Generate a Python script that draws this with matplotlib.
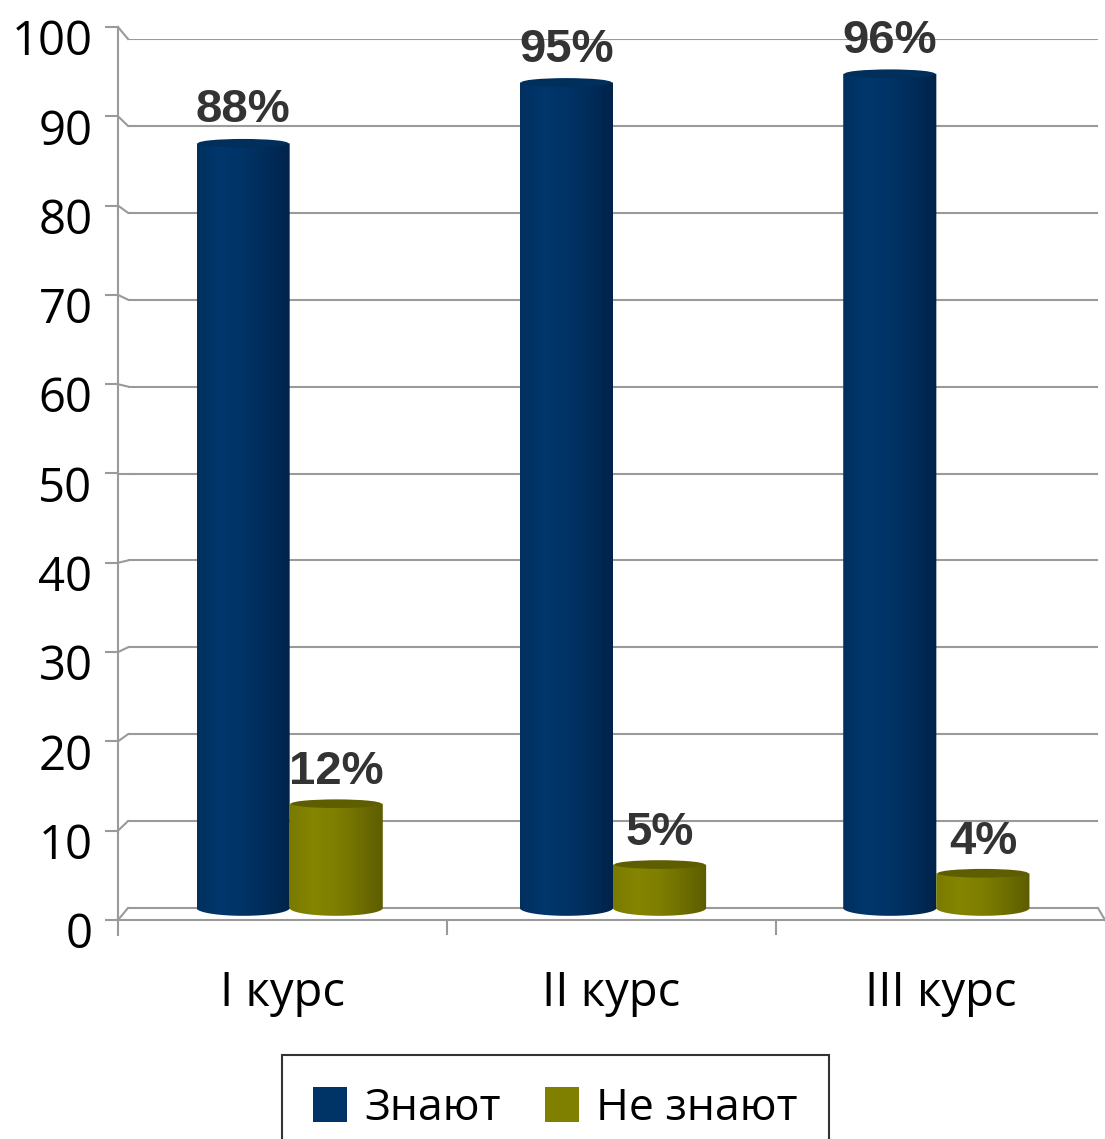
import numpy as np
import matplotlib
matplotlib.use("Agg")
import matplotlib.pyplot as plt
from matplotlib.colors import LinearSegmentedColormap
from matplotlib.patches import Ellipse, PathPatch, Rectangle
from matplotlib.path import Path
from matplotlib.lines import Line2D
from matplotlib.transforms import ScaledTranslation

# ---------------- data ----------------
categories = ["I курс", "II курс", "III курс"]
series_names = ["Знают", "Не знают"]
know = [88, 95, 96]
dont_know = [12, 5, 4]
y_ticks = [0, 10, 20, 30, 40, 50, 60, 70, 80, 90, 100]

# ---------------- style ----------------
W, H = 1105, 1139
fig = plt.figure(figsize=(W / 100, H / 100), dpi=100)
fig.patch.set_facecolor("white")

def fx(px):
    return px / W

def fy(py):
    return 1 - py / H

grid_col = "#9a9a9a"
blue_main = "#003366"
olive_main = "#808000"
blue_cmap = LinearSegmentedColormap.from_list(
    "b", ["#00305f", "#00376c", "#003366", "#002c59", "#00234a"])
olive_cmap = LinearSegmentedColormap.from_list(
    "o", ["#7a7a00", "#858500", "#7e7e00", "#6e6e00", "#5c5c00"])
blue_cap = "#002f5c"
olive_cap = "#5e5e00"

# back plane axes (gridlines + bars)
ppu = (908 - 39) / 100.0          # pixels per unit on the back plane
ybot = -1.6
axb = fig.add_axes([fx(128), fy(908 - ybot * ppu), fx(1098 - 128),
                    (908 - ybot * ppu - 39) / H])
axb.set_xlim(-0.5, 2.5)
axb.set_ylim(ybot, 100)
for s in axb.spines.values():
    s.set_visible(False)
axb.set_xticks([])
axb.set_yticks(y_ticks)
axb.tick_params(left=False, labelleft=False)
axb.yaxis.grid(True, color=grid_col, linewidth=1.5)
axb.set_axisbelow(True)
axb.patch.set_alpha(0)

bw = 0.288
cap_h = 1.0
bot_h = 1.8
x = np.arange(len(categories))


def cylinder(ax, xc, h, cmap, capcol):
    x0, x1 = xc - bw / 2, xc + bw / 2
    t = np.linspace(0, np.pi, 40)
    arc_x = xc + (bw / 2) * np.cos(t)
    arc_y = -(bot_h / 2) * np.sin(t)
    verts = [(x0, h), (x1, h)] + list(zip(arc_x, arc_y)) + [(x0, h)]
    codes = [Path.MOVETO] + [Path.LINETO] * (len(verts) - 2) + [Path.CLOSEPOLY]
    patch = PathPatch(Path(verts, codes), facecolor="none", edgecolor="none",
                      transform=ax.transData)
    ax.add_patch(patch)
    grad = np.linspace(0, 1, 256).reshape(1, -1)
    im = ax.imshow(grad, cmap=cmap, aspect="auto",
                   extent=(x0, x1, -bot_h / 2, h), zorder=2)
    im.set_clip_path(patch)
    ax.add_patch(Ellipse((xc, h), bw * 0.97, cap_h, facecolor=capcol,
                         edgecolor="none", zorder=3))


for i, v in enumerate(know):
    cylinder(axb, x[i] - bw / 2, v, blue_cmap, blue_cap)
for i, v in enumerate(dont_know):
    cylinder(axb, x[i] + bw / 2, v, olive_cmap, olive_cap)

lab_kw = dict(textcoords="offset points", ha="center", va="baseline",
              fontsize=34, fontweight="bold", color="#333333",
              family="Liberation Sans", zorder=5, annotation_clip=False)
for i, v in enumerate(know):
    axb.annotate(f"{v}%", xy=(x[i] - bw / 2, v), xytext=(0, 15), **lab_kw)
for i, v in enumerate(dont_know):
    axb.annotate(f"{v}%", xy=(x[i] + bw / 2, v), xytext=(0, 14), **lab_kw)
axb.set_xlim(-0.5, 2.5)
axb.set_ylim(ybot, 100)

# front plane axes (axis lines, ticks, labels)
axf = fig.add_axes([fx(118), fy(935), fx(1105 - 118), (935 - 27) / H])
axf.set_xlim(-0.5, 2.5)
axf.set_ylim(-15 / 8.93, 100)
axf.patch.set_alpha(0)
for k in ["top", "right"]:
    axf.spines[k].set_visible(False)
axf.spines["left"].set_color(grid_col)
axf.spines["left"].set_linewidth(1.5)
axf.spines["bottom"].set_position(("data", 0))
axf.spines["bottom"].set_color(grid_col)
axf.spines["bottom"].set_linewidth(1.5)
axf.set_yticks(y_ticks)
axf.set_yticklabels([str(t) for t in y_ticks])
axf.tick_params(axis="y", direction="out", length=9.4, width=1.5,
                color=grid_col, pad=9, labelsize=34, labelcolor="black")
for lab in axf.get_yticklabels():
    lab.set_family("Open Sans")
    lab.set_transform(lab.get_transform() +
                      ScaledTranslation(0, -0.10, fig.dpi_scale_trans))
axf.set_xticks([0.5, 1.5])
axf.set_xticklabels([])
axf.tick_params(axis="x", direction="out", length=10.8, width=1.5,
                color=grid_col)
for i, c in enumerate(categories):
    axf.annotate(c, xy=(x[i], 0), xytext=(0, -52.5), textcoords="offset points",
                 ha="center", va="center", fontsize=34, family="Open Sans",
                 color="black", annotation_clip=False)

# 3D connectors between front and back planes
inv = fig.transFigure.inverted()
for t in y_ticks:
    p_front = axf.transData.transform((-0.5, t))
    p_back = axb.transData.transform((-0.5, t))
    a, b = inv.transform(p_front), inv.transform(p_back)
    fig.add_artist(Line2D([a[0], b[0]], [a[1], b[1]], color=grid_col,
                          linewidth=1.5))
p_front = axf.transData.transform((2.5, 0))
p_back = axb.transData.transform((2.5, 0))
a, b = inv.transform(p_front), inv.transform(p_back)
fig.add_artist(Line2D([a[0], b[0]], [a[1], b[1]], color=grid_col, linewidth=1.5))

# legend
handles = [Rectangle((0, 0), 1, 1, facecolor=blue_main, edgecolor="none"),
           Rectangle((0, 0), 1, 1, facecolor=olive_main, edgecolor="none")]
leg = fig.legend(handles, series_names, loc="upper center",
                 bbox_to_anchor=(fx(555.5), fy(1055)), ncol=2,
                 prop={"family": "Open Sans", "size": 32},
                 frameon=True, fancybox=False, edgecolor="black",
                 borderpad=0.7, handlelength=0.75, handleheight=0.85,
                 handletextpad=0.4, columnspacing=1.0, borderaxespad=0)
leg.get_frame().set_linewidth(1.5)

fig.savefig("out.png", dpi=100, facecolor="white")
